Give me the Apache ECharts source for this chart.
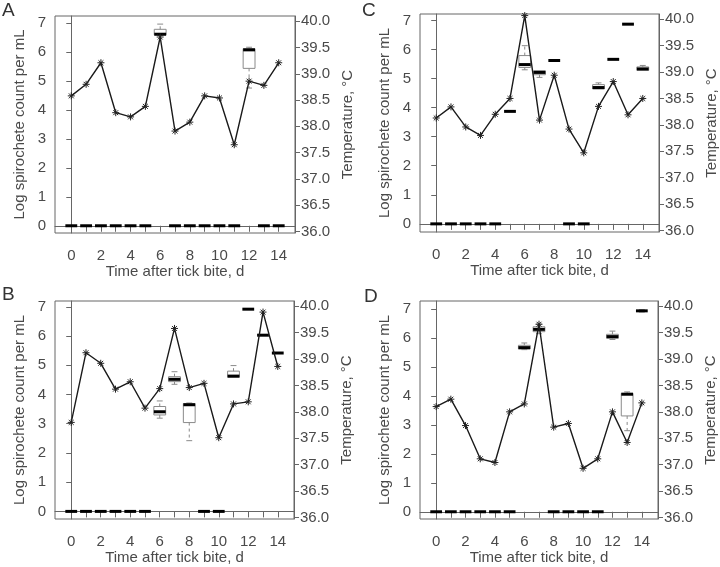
<!DOCTYPE html>
<html>
<head>
<meta charset="utf-8">
<script src="https://cdn.jsdelivr.net/npm/echarts@6/dist/echarts.min.js"></script>
<style>
html,body{margin:0;padding:0;background:#fff;}
#chart{width:720px;height:567px;}
</style>
</head>
<body>
<div id="chart"></div>
<script>
// ---- data ----
const days = [0,1,2,3,4,5,6,7,8,9,10,11,12,13,14];
const xTickLabels = [0,2,4,6,8,10,12,14];
const leftTicks = [0,1,2,3,4,5,6,7];
const rightTicks = [36,36.5,37,37.5,38,38.5,39,39.5,40];
const panelLabels = ['A','B','C','D'];

// temperature (°C) per day
const tempA = [38.58,38.80,39.21,38.26,38.18,38.38,39.70,37.91,38.08,38.58,38.54,37.65,38.86,38.78,39.21];
const tempB = [37.80,39.12,38.92,38.43,38.57,38.07,38.44,39.58,38.46,38.54,37.51,38.15,38.19,39.89,38.86];
const tempC = [38.13,38.34,37.96,37.80,38.20,38.50,40.07,38.09,38.94,37.92,37.47,38.35,38.82,38.19,38.50];
const tempD = [38.10,38.24,37.74,37.11,37.04,38.00,38.15,39.66,37.71,37.78,36.93,37.11,38.00,37.42,38.17];

// days with zero log spirochete count
const zeroA = [0,1,2,3,4,5,7,8,9,10,11,13,14];
const zeroB = [0,1,2,3,4,5,9,10];
const zeroC = [0,1,2,3,4,9,10];
const zeroD = [0,1,2,3,4,5,8,9,10,11];

// box statistics: [day, lower whisker, Q1, median, Q3, upper whisker]
const boxA = [[6,6.58,6.60,6.62,6.79,6.97],[12,4.76,5.44,6.08,6.12,6.17]];
const boxB = [[6,3.19,3.30,3.41,3.59,3.78],[7,4.35,4.44,4.52,4.61,4.78],[8,2.42,3.04,3.65,3.69,3.71],
              [11,4.59,4.59,4.63,4.80,4.99],[12,6.91,6.91,6.92,6.92,6.92],[13,6.02,6.02,6.03,6.04,6.04],
              [14,5.41,5.41,5.42,5.42,5.42]];
const boxC = [[5,3.86,3.86,3.87,3.88,3.88],[6,5.30,5.38,5.48,5.79,6.13],[7,5.04,5.13,5.21,5.27,5.27],
              [8,5.61,5.61,5.62,5.63,5.63],[11,4.64,4.64,4.69,4.79,4.85],[12,5.65,5.65,5.66,5.67,5.67],
              [13,6.86,6.86,6.87,6.88,6.88],[14,5.28,5.28,5.33,5.40,5.45]];
const boxD = [[6,5.60,5.62,5.67,5.75,5.83],[7,6.15,6.22,6.30,6.39,6.48],[12,5.95,5.99,6.05,6.13,6.24],
              [13,2.80,3.31,4.06,4.09,4.14],[14,6.90,6.92,6.94,6.96,6.98]];

const panels = [
  {temp: tempA, zero: zeroA, box: boxA, grid: {left:55, top:16, width:240, height:217}, lmin:-0.25, lmax:7.25, title:[2,1]},
  {temp: tempB, zero: zeroB, box: boxB, grid: {left:55, top:301, width:239, height:218}, lmin:-0.26, lmax:7.2, title:[2,285]},
  {temp: tempC, zero: zeroC, box: boxC, grid: {left:420, top:14, width:239, height:218}, lmin:-0.28, lmax:7.22, title:[362,1]},
  {temp: tempD, zero: zeroD, box: boxD, grid: {left:420, top:301, width:238, height:218}, lmin:-0.25, lmax:7.28, title:[364,287]}
];

// ---- chart ----
const FONT = 'Liberation Sans, Arial, sans-serif';
const TXT = '#4a4a4a';
const AX = '#666';

function renderBox(params, api) {
  const x = api.value(0);
  const lo = api.value(1), q1 = api.value(2), med = api.value(3), q3 = api.value(4), hi = api.value(5);
  const w = api.size([0.8, 0])[0];
  const cap = w / 2;
  const pLo = api.coord([x, lo]), pQ1 = api.coord([x, q1]), pMed = api.coord([x, med]);
  const pQ3 = api.coord([x, q3]), pHi = api.coord([x, hi]);
  const cx = pMed[0];
  const ch = [];
  const gray = {stroke: '#8a8a8a', lineWidth: 1, fill: 'none'};
  if (pQ1[1] - pQ3[1] > 1.5) {
    ch.push({type: 'rect', shape: {x: cx - w/2, y: pQ3[1], width: w, height: pQ1[1] - pQ3[1]}, style: gray});
  }
  if (hi > q3 + 0.005) {
    ch.push({type: 'line', shape: {x1: cx, y1: pQ3[1], x2: cx, y2: pHi[1]}, style: {stroke: '#8a8a8a', lineWidth: 1, lineDash: [3, 3]}});
    ch.push({type: 'line', shape: {x1: cx - cap/2, y1: pHi[1], x2: cx + cap/2, y2: pHi[1]}, style: gray});
  }
  if (lo < q1 - 0.005) {
    ch.push({type: 'line', shape: {x1: cx, y1: pQ1[1], x2: cx, y2: pLo[1]}, style: {stroke: '#8a8a8a', lineWidth: 1, lineDash: [3, 3]}});
    ch.push({type: 'line', shape: {x1: cx - cap/2, y1: pLo[1], x2: cx + cap/2, y2: pLo[1]}, style: gray});
  }
  ch.push({type: 'line', shape: {x1: cx - w/2, y1: pMed[1], x2: cx + w/2, y2: pMed[1]}, style: {stroke: '#000', lineWidth: 3}});
  return {type: 'group', children: ch};
}

const option = {
  backgroundColor: '#fff',
  animation: false,
  textStyle: {fontFamily: FONT},
  title: panels.map((p, i) => ({
    text: panelLabels[i], left: p.title[0], top: p.title[1], padding: 0,
    textStyle: {fontFamily: FONT, fontSize: 19, fontWeight: 'normal', color: '#333'}
  })),
  grid: panels.map(p => Object.assign({show: true, borderColor: AX, borderWidth: 1, backgroundColor: 'transparent'}, p.grid)),
  xAxis: panels.map((p, i) => ({
    type: 'value', gridIndex: i, min: -1.1, max: 15.1,
    name: 'Time after tick bite, d', nameLocation: 'middle', nameGap: 30,
    nameTextStyle: {fontFamily: FONT, fontSize: 15, color: TXT},
    splitLine: {show: false},
    axisLine: {show: true, lineStyle: {color: AX}},
    axisTick: {show: true, customValues: days, length: 6, lineStyle: {color: AX}},
    axisLabel: {customValues: xTickLabels, margin: 15, fontFamily: FONT, fontSize: 15, color: TXT}
  })),
  yAxis: [].concat(...panels.map((p, i) => [
    {
      type: 'value', gridIndex: i, position: 'left', min: p.lmin, max: p.lmax,
      name: 'Log spirochete count per mL', nameLocation: 'middle', nameGap: 28,
      nameTextStyle: {fontFamily: FONT, fontSize: 15, color: TXT},
      splitLine: {show: false},
      axisLine: {show: true, lineStyle: {color: AX}},
      axisTick: {show: true, customValues: leftTicks, length: 5, lineStyle: {color: AX}},
      axisLabel: {customValues: leftTicks, margin: 9, fontFamily: FONT, fontSize: 15, color: TXT}
    },
    {
      type: 'value', gridIndex: i, position: 'right', min: 35.97, max: 40.1,
      name: 'Temperature, °C', nameLocation: 'middle', nameGap: 45,
      nameTextStyle: {fontFamily: FONT, fontSize: 15, color: TXT},
      splitLine: {show: false},
      axisLine: {show: true, lineStyle: {color: AX}},
      axisTick: {show: true, customValues: rightTicks, length: 5, lineStyle: {color: AX}},
      axisLabel: {customValues: rightTicks, margin: 6, fontFamily: FONT, fontSize: 15, color: TXT,
                  formatter: v => Number(v).toFixed(1)}
    }
  ])),
  series: [].concat(...panels.map((p, i) => [
    {
      type: 'custom', xAxisIndex: i, yAxisIndex: 2*i, renderItem: renderBox,
      encode: {x: 0, y: [1,2,3,4,5]},
      data: p.zero.map(d => [d, 0, 0, 0, 0, 0]).concat(p.box),
      z: 2
    },
    {
      type: 'line', xAxisIndex: i, yAxisIndex: 2*i + 1,
      data: days.map((d, k) => [d, p.temp[k]]),
      symbol: 'path://M0,-5L0,5M-5,0L5,0M-3.5,-3.5L3.5,3.5M-3.5,3.5L3.5,-3.5',
      symbolSize: 7,
      itemStyle: {color: 'transparent', borderColor: '#222', borderWidth: 1},
      lineStyle: {color: '#1a1a1a', width: 1.4},
      z: 3
    }
  ]))
};

const chart = echarts.init(document.getElementById('chart'), null, {renderer: 'canvas'});
chart.setOption(option);
</script>
</body>
</html>
